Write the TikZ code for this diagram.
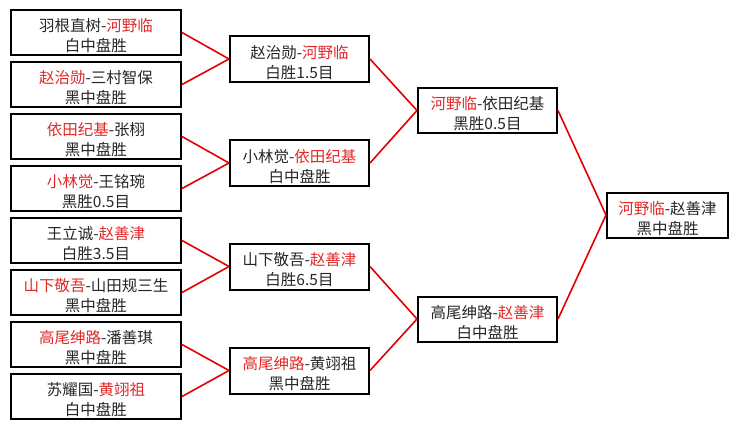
\documentclass[tikz,border=0pt]{standalone}
\usepackage{fontspec}
\setmainfont{Noto Sans CJK SC}
\usetikzlibrary{positioning}
\definecolor{winred}{RGB}{226,40,40}
\definecolor{linered}{RGB}{228,0,0}
\newcommand{\w}[1]{\textcolor{winred}{#1}}
\newcommand{\gres}[2]{\rule{0pt}{19.5pt}#1\\#2}
\begin{document}
\begin{tikzpicture}[x=1pt,y=-1pt,
  game/.style={draw=black,line width=2pt,fill=white,inner sep=0pt,align=center,
    font=\fontsize{15.5}{20}\selectfont,text=black!85},
  gl/.style={game,minimum width=170pt,minimum height=45pt},
  gm/.style={game,minimum width=139pt,minimum height=46pt},
  gt/.style={game,minimum width=139pt,minimum height=45pt},
  gf/.style={game,minimum width=121pt,minimum height=45pt},
  link/.style={draw=linered,line width=1.6pt}]
\useasboundingbox (0,0) rectangle (739,429);
\fill[white] (0,0) rectangle (739,429);
% first round
\node[gl] (a1) at (96,32.5)  {\gres{羽根直树-\w{河野临}}{白中盘胜}};
\node[gl] (a2) at (96,84.5)  {\gres{\w{赵治勋}-三村智保}{黑中盘胜}};
\node[gl] (a3) at (96,136.5) {\gres{\w{依田纪基}-张栩}{黑中盘胜}};
\node[gl] (a4) at (96,188.5) {\gres{\w{小林觉}-王铭琬}{黑胜0.5目}};
\node[gl] (a5) at (96,240.5) {\gres{王立诚-\w{赵善津}}{白胜3.5目}};
\node[gl] (a6) at (96,292.5) {\gres{\w{山下敬吾}-山田规三生}{黑中盘胜}};
\node[gl] (a7) at (96,344.5) {\gres{\w{高尾绅路}-潘善琪}{黑中盘胜}};
\node[gl] (a8) at (96,396.5) {\gres{苏耀国-\w{黄翊祖}}{白中盘胜}};
% second round
\node[gm] (b1) at (299.5,59)    {\gres{赵治勋-\w{河野临}}{白胜1.5目}};
\node[gm] (b2) at (299.5,163)   {\gres{小林觉-\w{依田纪基}}{白中盘胜}};
\node[gm] (b3) at (299.5,266.5) {\gres{山下敬吾-\w{赵善津}}{白胜6.5目}};
\node[gm] (b4) at (299.5,370.5) {\gres{\w{高尾绅路}-黄翊祖}{黑中盘胜}};
% semi-finals
\node[gt] (c1) at (487.5,110.5) {\gres{\w{河野临}-依田纪基}{黑胜0.5目}};
\node[gt] (c2) at (487.5,319)   {\gres{高尾绅路-\w{赵善津}}{白中盘胜}};
% final
\node[gf] (d1) at (667.5,215) {\gres{\w{河野临}-赵善津}{黑中盘胜}};
% connectors
\draw[link] (a1.east) -- (b1.west);
\draw[link] (a2.east) -- (b1.west);
\draw[link] (a3.east) -- (b2.west);
\draw[link] (a4.east) -- (b2.west);
\draw[link] (a5.east) -- (b3.west);
\draw[link] (a6.east) -- (b3.west);
\draw[link] (a7.east) -- (b4.west);
\draw[link] (a8.east) -- (b4.west);
\draw[link] (b1.east) -- (c1.west);
\draw[link] (b2.east) -- (c1.west);
\draw[link] (b3.east) -- (c2.west);
\draw[link] (b4.east) -- (c2.west);
\draw[link] (c1.east) -- (d1.west);
\draw[link] (c2.east) -- (d1.west);
\end{tikzpicture}
\end{document}
